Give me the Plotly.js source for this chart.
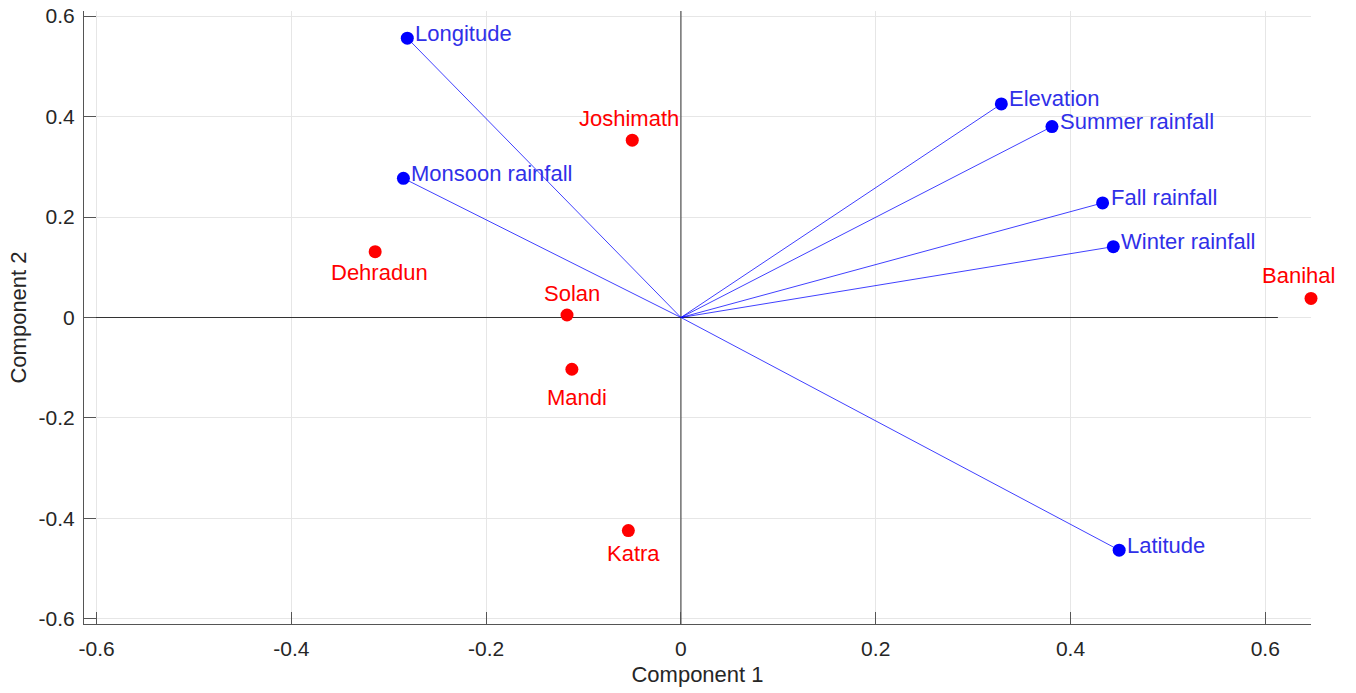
<!DOCTYPE html>
<html>
<head>
<meta charset="utf-8">
<script src="https://cdn.plot.ly/plotly-3.0.1.min.js"></script>
<style>html,body{margin:0;padding:0;background:#fff;}#chart{width:1356px;height:693px;}</style>
</head>
<body>
<div id="chart"></div>
<script>
// ---- data ----
var varNames = ['Longitude', 'Monsoon rainfall', 'Elevation', 'Summer rainfall', 'Fall rainfall', 'Winter rainfall', 'Latitude'];
var loadX = [-0.281, -0.285, 0.329, 0.381, 0.433, 0.444, 0.450];
var loadY = [0.556, 0.277, 0.425, 0.380, 0.228, 0.141, -0.463];

var obsNames = ['Joshimath', 'Dehradun', 'Solan', 'Mandi', 'Katra', 'Banihal'];
var scoreX = [-0.050, -0.314, -0.117, -0.112, -0.054, 0.647];
var scoreY = [0.353, 0.131, 0.005, -0.103, -0.424, 0.038];

var xTickVals = [-0.6, -0.4, -0.2, 0, 0.2, 0.4, 0.6];
var xTickText = ['-0.6', '-0.4', '-0.2', '0', '0.2', '0.4', '0.6'];
var yTickVals = [-0.6, -0.4, -0.2, 0, 0.2, 0.4, 0.6];
var yTickText = ['-0.6', '-0.4', '-0.2', '0', '0.2', '0.4', '0.6'];

// ---- layout constants ----
var maxLen = 0.613;
var xRange = [-0.613, 0.647];
var yRange = [-0.61, 0.61];
// label pixel offsets for observation labels [dx, dy] (dy positive = up)
var obsLabelOffsets = [[-3, 22], [4, -21], [5, 21], [5, -28], [5, -23], [-13, 23]];

var FONT = '"Liberation Sans", Arial, Helvetica, sans-serif';
var AX = '#262626';

// vectors from origin
var vx = [], vy = [];
for (var i = 0; i < loadX.length; i++) {
  vx.push(0, loadX[i], null);
  vy.push(0, loadY[i], null);
}

var traces = [
  {x: vx, y: vy, mode: 'lines', type: 'scatter', line: {color: 'rgba(0,0,255,0.75)', width: 1}, hoverinfo: 'skip', showlegend: false},
  {x: loadX, y: loadY, mode: 'markers', type: 'scatter', marker: {color: '#0000ff', size: 13}, text: varNames, showlegend: false, cliponaxis: false},
  {x: scoreX, y: scoreY, mode: 'markers', type: 'scatter', marker: {color: '#ff0000', size: 13}, text: obsNames, showlegend: false, cliponaxis: false}
];

var annotations = [];
for (var i = 0; i < varNames.length; i++) {
  annotations.push({
    x: loadX[i], y: loadY[i], xref: 'x', yref: 'y', text: varNames[i], showarrow: false,
    xanchor: 'left', yanchor: 'middle', xshift: 6, yshift: 5,
    font: {family: FONT, size: 22, color: '#3030e8'}
  });
}
for (var j = 0; j < obsNames.length; j++) {
  annotations.push({
    x: scoreX[j], y: scoreY[j], xref: 'x', yref: 'y', text: obsNames[j], showarrow: false,
    xanchor: 'center', yanchor: 'middle', xshift: obsLabelOffsets[j][0], yshift: obsLabelOffsets[j][1],
    font: {family: FONT, size: 22, color: '#ff0000'}
  });
}

var shapes = [
  {type: 'line', xref: 'x', yref: 'y', x0: -maxLen, x1: maxLen, y0: 0, y1: 0, line: {color: '#333333', width: 1}, layer: 'between'},
  {type: 'line', xref: 'x', yref: 'y', x0: 0, x1: 0, y0: yRange[0], y1: yRange[1], line: {color: '#333333', width: 1}, layer: 'between'}
];

var axisCommon = {
  showgrid: true, gridcolor: '#e6e6e6', gridwidth: 1,
  showline: true, linecolor: '#555555', linewidth: 1, mirror: false,
  ticks: 'inside', ticklen: 12, tickcolor: '#555555', tickwidth: 1,
  zeroline: false, tickfont: {family: FONT, size: 21, color: AX},
  fixedrange: true
};

var layout = {
  width: 1356, height: 693,
  margin: {l: 84, r: 45, t: 11, b: 69},
  paper_bgcolor: '#ffffff', plot_bgcolor: '#ffffff',
  font: {family: FONT, color: AX},
  showlegend: false,
  xaxis: Object.assign({}, axisCommon, {
    range: xRange, tickmode: 'array', tickvals: xTickVals, ticktext: xTickText,
    ticklabelstandoff: 6,
    title: {text: 'Component 1', font: {family: FONT, size: 22, color: AX}, standoff: 7}
  }),
  yaxis: Object.assign({}, axisCommon, {
    range: yRange, tickmode: 'array', tickvals: yTickVals, ticktext: yTickText,
    ticklabelstandoff: 4,
    title: {text: 'Component 2', font: {family: FONT, size: 22, color: AX}, standoff: 5}
  }),
  shapes: shapes,
  annotations: annotations
};

Plotly.newPlot('chart', traces, layout, {displayModeBar: false, staticPlot: true});
</script>
</body>
</html>
